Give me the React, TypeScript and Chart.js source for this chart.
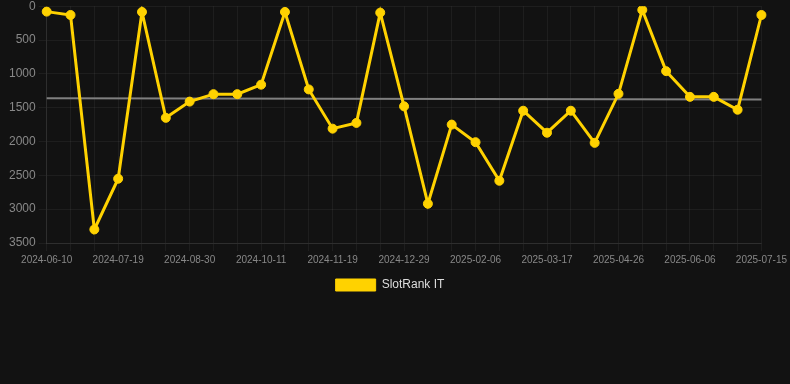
import React, { useEffect, useRef } from "react";
import { Chart, registerables } from "chart.js";

Chart.register(...registerables);

const dates = [
  "2024-06-10", "2024-06-23", "2024-07-06", "2024-07-19", "2024-08-02", "2024-08-16",
  "2024-08-30", "2024-09-13", "2024-09-27", "2024-10-11", "2024-10-24", "2024-11-06",
  "2024-11-19", "2024-12-02", "2024-12-15", "2024-12-29", "2025-01-11", "2025-01-24",
  "2025-02-06", "2025-02-19", "2025-03-04", "2025-03-17", "2025-03-30", "2025-04-12",
  "2025-04-26", "2025-05-10", "2025-05-23", "2025-06-06", "2025-06-19", "2025-07-02",
  "2025-07-15",
];

const slotRankIT = [
  80, 130, 3300, 2550, 85, 1650, 1410, 1300, 1300, 1160, 85, 1230, 1810, 1725, 95, 1480,
  2920, 1750, 2010, 2580, 1545, 1870, 1545, 2020, 1295, 55, 960, 1340, 1340, 1530, 130,
];

const trendStart = 1360;
const trendEnd = 1380;
const trend = dates.map((_, i) => (i === 0 ? trendStart : i === dates.length - 1 ? trendEnd : null));

const yTicks = [0, 500, 1000, 1500, 2000, 2500, 3000, 3500];

const legendShift = {
  id: "legendShift",
  afterLayout(chart: any) {
    if (chart.legend) {
      chart.legend.left -= 7;
      chart.legend.right -= 7;
    }
  },
};

export default function App() {
  const ref = useRef<HTMLCanvasElement | null>(null);

  useEffect(() => {
    document.body.style.margin = "0";
    document.body.style.background = "#121212";
    if (!ref.current) return;
    const chart = new Chart(ref.current, {
      type: "line",
      data: {
        labels: dates,
        datasets: [
          {
            label: "SlotRank IT",
            data: slotRankIT,
            borderColor: "#FFD200",
            backgroundColor: "#FFD200",
            borderWidth: 3,
            pointRadius: 4.5,
            pointBorderWidth: 1,
            pointHoverRadius: 4.5,
            pointBackgroundColor: "#FFD200",
            pointBorderColor: "#FFD200",
            tension: 0,
          },
          {
            label: "Trend",
            data: trend,
            borderColor: "#808080",
            borderWidth: 2,
            pointRadius: 0,
            spanGaps: true,
            tension: 0,
          },
        ],
      },
      plugins: [legendShift],
      options: {
        animation: false,
        responsive: false,
        maintainAspectRatio: false,
        layout: { padding: { top: 1, right: 2, left: 6, bottom: 0 } },
        plugins: {
          legend: {
            position: "bottom",
            labels: {
              color: "#dddddd",
              font: { size: 12, family: "Liberation Sans, Arial, sans-serif" },
              boxWidth: 40,
              boxHeight: 12,
              filter: (item) => item.text !== "Trend",
              generateLabels: (c) =>
                Chart.defaults.plugins.legend.labels.generateLabels(c).map((l) => ({
                  ...l,
                  lineWidth: 1,
                })),
            },
          },
          tooltip: { enabled: false },
        },
        scales: {
          x: {
            grid: { color: "rgba(255,255,255,0.05)", tickLength: 8 },
            border: { color: "rgba(255,255,255,0.08)" },
            ticks: {
              color: "#888888",
              font: { size: 10, family: "Liberation Sans, Arial, sans-serif" },
              autoSkip: false,
              maxRotation: 0,
              callback: (_v, i) => (i % 3 === 0 ? dates[i] : ""),
            },
          },
          y: {
            reverse: true,
            min: 0,
            max: 3500,
            grid: { color: "rgba(255,255,255,0.05)", tickLength: 8 },
            border: { color: "rgba(255,255,255,0.08)" },
            afterBuildTicks: (axis) => {
              axis.ticks = yTicks.map((v) => ({ value: v }));
            },
            ticks: {
              color: "#888888",
              font: { size: 12, family: "Liberation Sans, Arial, sans-serif" },
              callback: (v) => String(v),
            },
          },
        },
      },
    });
    return () => chart.destroy();
  }, []);

  return (
    <canvas
      ref={ref}
      width={790}
      height={305}
      style={{ display: "block", marginTop: "-4px" }}
    />
  );
}
